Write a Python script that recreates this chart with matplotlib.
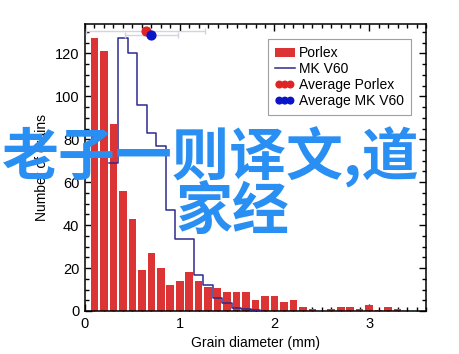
import matplotlib
matplotlib.use('Agg')
import matplotlib.pyplot as plt
from matplotlib.ticker import MultipleLocator

plt.rcParams['font.family'] = ['Liberation Sans', 'DejaVu Sans']

# Porlex histogram (bin centres in mm, counts)
porlex_x = [0.1, 0.2, 0.3, 0.4, 0.5, 0.6, 0.7, 0.8, 0.9, 1.0, 1.1, 1.2, 1.3, 1.4, 1.5,
            1.6, 1.7, 1.8, 1.9, 2.0, 2.1, 2.2, 2.3, 2.4, 2.5, 2.6, 2.7, 2.8, 2.9, 3.0,
            3.1, 3.2, 3.3]
porlex_n = [127, 121, 87, 56, 43, 19, 27, 20, 12, 14, 18, 14, 11, 10.5, 9,
            9, 9, 5, 7, 7, 4, 5, 2, 1, 0, 1, 2, 2, 1, 3,
            0.5, 2, 1]

# MK V60 histogram (left bin edges, counts)
v60_edges = [0.25, 0.35, 0.45, 0.55, 0.65, 0.75, 0.85, 0.95, 1.05, 1.15, 1.25, 1.35,
             1.45, 1.55, 1.65, 1.75, 1.85]
v60_n = [69, 127, 120, 96, 83, 77, 47, 33.5, 33.5, 17, 12, 6, 3.7, 1.3, 1, 0.5, 0]

# averages with spread
avg_porlex = (0.64, 130.5, 0.63)
avg_v60 = (0.70, 128.5, 0.28)

fig = plt.figure(figsize=(4.6, 3.54), dpi=100)
ax = fig.add_axes([85 / 460, 43 / 354, 341 / 460, 287 / 354])

h_bar = ax.bar(porlex_x, porlex_n, width=0.08, color='#dc3434', label='Porlex', zorder=2)
h_step, = ax.step(v60_edges, v60_n, where='post', color='#2e2a8e', lw=1.1,
                  label='MK V60', zorder=3)

ax.errorbar(avg_porlex[0], avg_porlex[1], xerr=avg_porlex[2], fmt='none',
            ecolor='#d4d4e0', elinewidth=1, capsize=2.5, zorder=3)
ax.errorbar(avg_v60[0], avg_v60[1], xerr=avg_v60[2], fmt='none',
            ecolor='#d4d4e0', elinewidth=1, capsize=2.5, zorder=3)
h_ap = ax.scatter([avg_porlex[0]], [avg_porlex[1]], s=40, color='#e02424',
                  label='Average Porlex', zorder=4)
h_av = ax.scatter([avg_v60[0]], [avg_v60[1]], s=40, color='#0a14c8',
                  label='Average MK V60', zorder=4)

ax.set_xlim(0, 3.6)
ax.set_ylim(0, 133.7)
ax.xaxis.set_major_locator(MultipleLocator(1))
ax.xaxis.set_minor_locator(MultipleLocator(0.1))
ax.yaxis.set_major_locator(MultipleLocator(20))
ax.yaxis.set_minor_locator(MultipleLocator(5))
ax.tick_params(which='both', direction='in', top=True, right=True, labelsize=10.5,
               width=1, pad=4)
ax.tick_params(which='major', length=5)
ax.tick_params(which='minor', length=3)
for s in ax.spines.values():
    s.set_linewidth(1.1)

ax.set_xlabel('Grain diameter (mm)', fontsize=10)
ax.set_ylabel('Number of grains', fontsize=10)

leg = ax.legend([h_bar, h_step, h_ap, h_av],
                ['Porlex', 'MK V60', 'Average Porlex', 'Average MK V60'],
                loc='upper right', scatterpoints=3, scatteryoffsets=[0.5],
                markerscale=0.75, fontsize=10, frameon=True,
                fancybox=False, edgecolor='#888888', borderaxespad=1.1,
                handlelength=1.4, handletextpad=0.3, labelspacing=0.15,
                borderpad=0.5)
leg.get_frame().set_linewidth(0.8)

wm = dict(color='#2a8ff2', fontsize=41, fontweight='bold',
          family=['Noto Sans CJK SC', 'DejaVu Sans'], va='center', ha='left', zorder=10)
fig.text(2 / 460, 1 - 157 / 354, '老子一则译文,道', **wm)
fig.text(175 / 460, 1 - 212 / 354, '家经', **wm)

fig.savefig('out.png', dpi=100)
